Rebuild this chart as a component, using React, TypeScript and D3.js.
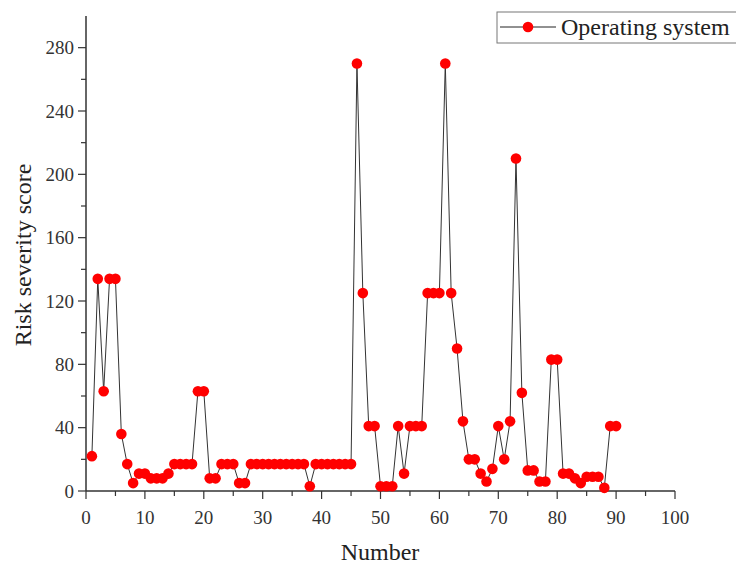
import React, { useEffect, useRef } from "react";
import * as d3 from "d3";

const numbers: number[] = Array.from({ length: 90 }, (_, i) => i + 1);
const scores: number[] = [
  22, 134, 63, 134, 134, 36, 17, 5, 11, 11,
  8, 8, 8, 11, 17, 17, 17, 17, 63, 63,
  8, 8, 17, 17, 17, 5, 5, 17, 17, 17,
  17, 17, 17, 17, 17, 17, 17, 3, 17, 17,
  17, 17, 17, 17, 17, 270, 125, 41, 41, 3,
  3, 3, 41, 11, 41, 41, 41, 125, 125, 125,
  270, 125, 90, 44, 20, 20, 11, 6, 14, 41,
  20, 44, 210, 62, 13, 13, 6, 6, 83, 83,
  11, 11, 8, 5, 9, 9, 9, 2, 41, 41,
];
const xTicks: number[] = [0, 10, 20, 30, 40, 50, 60, 70, 80, 90, 100];
const yTicks: number[] = [0, 40, 80, 120, 160, 200, 240, 280];
const seriesName = "Operating system";
const xTitle = "Number";
const yTitle = "Risk severity score";

export default function App() {
  const ref = useRef<SVGSVGElement>(null);

  useEffect(() => {
    const svg = d3.select(ref.current);
    svg.selectAll("*").remove();
    const font = "'Liberation Serif', 'Times New Roman', serif";
    const axisColor = "#333";

    const x = d3.scaleLinear().domain([0, 100]).range([86, 675]);
    const y = d3.scaleLinear().domain([0, 300]).range([491, 16]);

    svg.append("line").attr("x1", x(0)).attr("x2", x(100)).attr("y1", y(0)).attr("y2", y(0))
      .attr("stroke", axisColor).attr("stroke-width", 1.5);
    svg.append("line").attr("x1", x(0)).attr("x2", x(0)).attr("y1", y(0)).attr("y2", y(300))
      .attr("stroke", axisColor).attr("stroke-width", 1.5);

    const xMinor = d3.range(5, 100, 10);
    svg.append("g").selectAll("line.maj").data(xTicks).join("line")
      .attr("x1", (d) => x(d)).attr("x2", (d) => x(d))
      .attr("y1", y(0)).attr("y2", y(0) + 8)
      .attr("stroke", axisColor).attr("stroke-width", 1.2);
    svg.append("g").selectAll("line.min").data(xMinor).join("line")
      .attr("x1", (d) => x(d)).attr("x2", (d) => x(d))
      .attr("y1", y(0)).attr("y2", y(0) + 5)
      .attr("stroke", axisColor).attr("stroke-width", 1.2);
    svg.append("g").selectAll("text").data(xTicks).join("text")
      .attr("x", (d) => x(d)).attr("y", y(0) + 33)
      .attr("text-anchor", "middle")
      .attr("font-family", font).attr("font-size", 19).attr("fill", "#333")
      .text((d) => String(d));

    const yMinor = d3.range(20, 300, 40);
    svg.append("g").selectAll("line.maj").data(yTicks).join("line")
      .attr("x1", x(0) - 8).attr("x2", x(0))
      .attr("y1", (d) => y(d)).attr("y2", (d) => y(d))
      .attr("stroke", axisColor).attr("stroke-width", 1.2);
    svg.append("g").selectAll("line.min").data(yMinor).join("line")
      .attr("x1", x(0) - 5).attr("x2", x(0))
      .attr("y1", (d) => y(d)).attr("y2", (d) => y(d))
      .attr("stroke", axisColor).attr("stroke-width", 1.2);
    svg.append("g").selectAll("text").data(yTicks).join("text")
      .attr("x", x(0) - 12).attr("y", (d) => y(d))
      .attr("dy", "0.35em")
      .attr("text-anchor", "end")
      .attr("font-family", font).attr("font-size", 19).attr("fill", "#333")
      .text((d) => String(d));

    svg.append("text").attr("x", 380).attr("y", 560)
      .attr("text-anchor", "middle")
      .attr("font-family", font).attr("font-size", 24).attr("fill", "#222")
      .text(xTitle);
    svg.append("text")
      .attr("transform", `translate(31, 255) rotate(-90)`)
      .attr("text-anchor", "middle")
      .attr("font-family", font).attr("font-size", 24).attr("fill", "#222")
      .text(yTitle);

    const line = d3.line<number>()
      .x((_, i) => x(numbers[i]))
      .y((d) => y(d));
    svg.append("path").datum(scores).attr("d", line)
      .attr("fill", "none").attr("stroke", "#333").attr("stroke-width", 1);

    svg.append("g").selectAll("circle").data(scores).join("circle")
      .attr("cx", (_, i) => x(numbers[i])).attr("cy", (d) => y(d))
      .attr("r", 5.3).attr("fill", "#ff0000");

    const lg = svg.append("g");
    lg.append("rect").attr("x", 497).attr("y", 12).attr("width", 260).attr("height", 31)
      .attr("fill", "white").attr("stroke", "#777").attr("stroke-width", 1);
    lg.append("line").attr("x1", 500).attr("x2", 556).attr("y1", 27).attr("y2", 27)
      .attr("stroke", "#222").attr("stroke-width", 1);
    lg.append("circle").attr("cx", 528).attr("cy", 27).attr("r", 5.3).attr("fill", "#ff0000");
    lg.append("text").attr("x", 561).attr("y", 35)
      .attr("font-family", font).attr("font-size", 24).attr("fill", "#222")
      .text(seriesName);
  }, []);

  return (
    <svg
      ref={ref}
      width={736}
      height={566}
      style={{ position: "absolute", left: 0, top: 0, background: "white" }}
    />
  );
}
